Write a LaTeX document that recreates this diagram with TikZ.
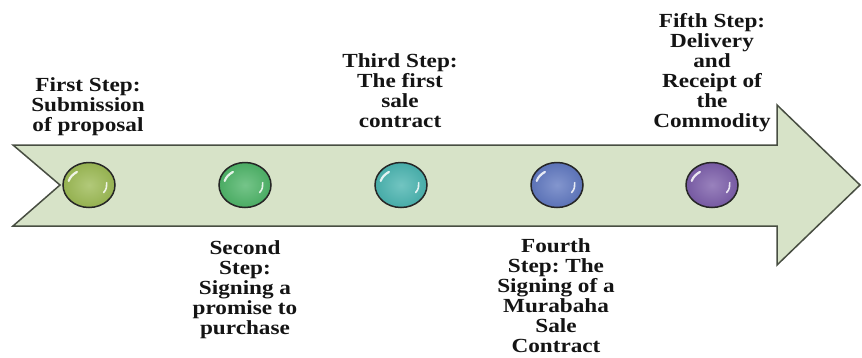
\documentclass[tikz,border=0pt]{standalone}
\usepackage{fontspec}
\setmainfont{Liberation Serif}[FakeStretch=1.16]
\usetikzlibrary{shapes.geometric}
\frenchspacing

\definecolor{arrowfill}{RGB}{215,227,200}
\definecolor{arrowline}{RGB}{72,78,66}
\definecolor{ballA}{RGB}{156,186,84}
\definecolor{ballB}{RGB}{78,180,104}
\definecolor{ballC}{RGB}{74,180,176}
\definecolor{ballD}{RGB}{96,120,192}
\definecolor{ballE}{RGB}{124,94,170}

\begin{document}
\begin{tikzpicture}[x=1pt, y=-1pt,
    stepball/.style={ellipse, draw=black!85, line width=1.5pt, minimum width=52pt, minimum height=45pt, inner sep=0pt,
        shading=radial, inner color=#1!78!white, outer color=#1!95!black,
        path picture={
            \draw[white, opacity=.85, line width=2.2pt, line cap=round]
                ([shift={(-20.3pt,4.1pt)}]path picture bounding box.center) arc[start angle=165, end angle=125, x radius=21pt, y radius=16pt];
            \draw[white, opacity=.85, line width=1.6pt, line cap=round]
                ([shift={(17.7pt,2.4pt)}]path picture bounding box.center) arc[start angle=8, end angle=-35, x radius=18pt, y radius=14pt];
        }},
    steplabel/.style={anchor=south, align=center, inner sep=0pt, text depth=0pt, text=black!92,
        font=\fontsize{20}{20}\selectfont\bfseries}]
    \useasboundingbox (0,0) rectangle (862,357);

    % the arrow
    \draw[arrowline, fill=arrowfill, line width=1.5pt]
        (13,145) -- (777,145) -- (777,105) -- (860,185) -- (777,265) -- (777,226) -- (13,226) -- (60,185) -- cycle;

    % steps
    \node[stepball=ballA] (s1) at (89, 185) {};
    \node[stepball=ballB] (s2) at (245, 185) {};
    \node[stepball=ballC] (s3) at (401, 185) {};
    \node[stepball=ballD] (s4) at (557, 185) {};
    \node[stepball=ballE] (s5) at (712, 185) {};

    % labels
    \node[steplabel] (t1) at (88, 132) {First Step:\\Submission\\of proposal};
    \node[steplabel] (t2) at (245, 335) {Second\\Step:\\Signing a\\promise to\\purchase};
    \node[steplabel] (t3) at (400, 128) {Third Step:\\The first\\sale\\contract};
    \node[steplabel] (t4) at (556, 353) {Fourth\\Step: The\\Signing of a\\Murabaha\\Sale\\Contract};
    \node[steplabel] (t5) at (712, 128) {Fifth Step:\\Delivery\\and\\Receipt of\\the\\Commodity};
\end{tikzpicture}
\end{document}
